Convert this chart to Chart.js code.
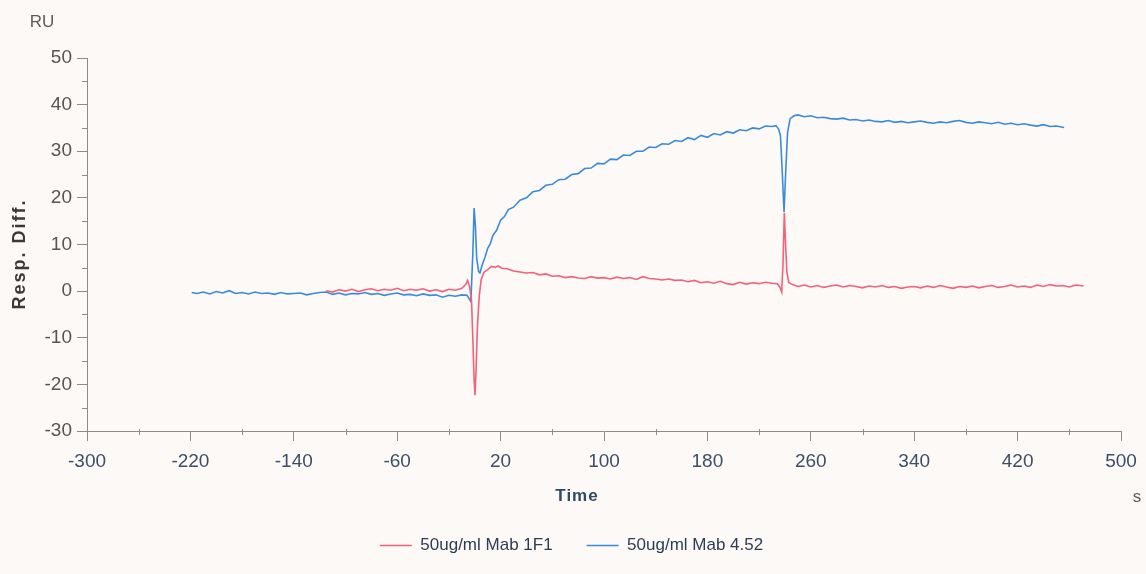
<!DOCTYPE html>
<html>
<head>
<meta charset="utf-8">
<title>Resp. Diff. vs Time</title>
<script src="https://cdn.jsdelivr.net/npm/chart.js@4.4.1/dist/chart.umd.min.js"></script>
<style>
  html, body { margin: 0; padding: 0; background: #fdf9f7; }
  #wrap { width: 1146px; height: 574px; position: relative; }
</style>
</head>
<body>
<div id="wrap"><canvas id="sensor"></canvas></div>
<script>
/* ================= DATA ================= */

const seriesNames = ["50ug/ml Mab 1F1", "50ug/ml Mab 4.52"];

// 50ug/ml Mab 1F1 (red)
const redTime = [
  -115, -110, -105, -100, -95, -90, -85, -80, -75, -70, -65, -60, -55, -50, -45, -40,
  -35, -30, -25, -20, -15, -10, -7, -5.5, -4, -2.5, -1.5, -0.5, 0.2, 1, 2, 3.5,
  5, 7, 10, 13, 16, 18, 21, 25, 30, 35, 40, 45, 50, 55, 60, 65,
  70, 75, 80, 85, 90, 95, 100, 105, 110, 115, 120, 125, 130, 135, 140, 145,
  150, 155, 160, 165, 170, 175, 180, 185, 190, 195, 200, 205, 210, 215, 220, 225,
  230, 234, 236, 237.5, 238.5, 239.5, 240.5, 241.5, 243, 246, 250, 255, 260, 265, 270, 275,
  280, 285, 290, 295, 300, 305, 310, 315, 320, 325, 330, 335, 340, 345, 350, 355,
  360, 365, 370, 375, 380, 385, 390, 395, 400, 405, 410, 415, 420, 425, 430, 435,
  440, 445, 450, 455, 460, 465, 471
];
const redResp = [
  0.1, -0.2, 0.3, 0.0, 0.4, -0.1, 0.3, 0.5, 0.1, 0.4, 0.2, 0.6, 0.1, 0.4, 0.2, 0.5,
  0.0, 0.3, -0.1, 0.4, 0.2, 0.6, 1.4, 2.3, 1.0, -2.0, -10, -19, -22.3, -17, -8, -1,
  2.5, 4.0, 4.6, 5.3, 5.1, 5.4, 4.9, 4.8, 4.3, 4.1, 3.9, 4.0, 3.5, 3.7, 3.2, 3.3,
  2.9, 3.1, 2.8, 2.7, 3.1, 2.8, 2.9, 2.6, 3.0, 2.7, 2.9, 2.5, 3.1, 2.7, 2.6, 2.4,
  2.6, 2.3, 2.4, 2.0, 2.3, 1.8, 2.0, 1.7, 2.1, 1.6, 1.4, 1.9, 1.5, 1.8, 1.6, 1.9,
  1.7, 1.6, 0.9, -0.2, 6, 16.8, 10, 4, 1.8, 1.4, 1.0, 1.3, 0.9, 1.2, 0.8, 1.1,
  1.3, 0.9, 1.2, 1.0, 0.7, 1.1, 0.9, 1.2, 0.8, 1.0, 0.6, 0.9, 1.0, 0.7, 1.1, 0.8,
  1.2, 0.9, 0.6, 1.0, 0.8, 1.1, 0.7, 1.0, 1.2, 0.8, 1.0, 1.3, 0.9, 1.1, 0.8, 1.3,
  1.0, 1.4, 1.1, 1.2, 0.9, 1.3, 1.1
];

// 50ug/ml Mab 4.52 (blue)
const blueTime = [
  -219, -215, -210, -205, -200, -195, -190, -185, -180, -175, -170, -165, -160, -155, -150, -145,
  -140, -135, -130, -125, -120, -115, -110, -105, -100, -95, -90, -85, -80, -75, -70, -65,
  -60, -55, -50, -45, -40, -35, -30, -25, -20, -15, -10, -6, -3, -1.5, -0.5, 0.5,
  1.5, 3, 4, 6, 8, 10, 12, 14, 17, 20, 23, 26, 30, 35, 40, 45,
  50, 55, 60, 65, 70, 75, 80, 85, 90, 95, 100, 105, 110, 115, 120, 125,
  130, 135, 140, 145, 150, 155, 160, 165, 170, 175, 180, 185, 190, 195, 200, 205,
  210, 215, 220, 225, 230, 233, 235, 236.5, 238, 239.3, 240.5, 242, 244, 247, 250, 255,
  260, 265, 270, 275, 280, 285, 290, 295, 300, 305, 310, 315, 320, 325, 330, 335,
  340, 345, 350, 355, 360, 365, 370, 375, 380, 385, 390, 395, 400, 405, 410, 415,
  420, 425, 430, 435, 440, 445, 450, 456
];
const blueResp = [
  -0.3, -0.5, -0.2, -0.6, -0.1, -0.4, 0.1, -0.5, -0.3, -0.6, -0.2, -0.5, -0.4, -0.7, -0.3, -0.6,
  -0.5, -0.4, -0.8, -0.5, -0.3, -0.2, -0.7, -0.4, -0.8, -0.5, -0.6, -0.3, -0.7, -0.5, -0.9, -0.6,
  -0.4, -0.8, -0.7, -1.0, -0.6, -0.9, -0.8, -1.3, -0.9, -1.1, -0.8, -0.9, -2.2, 8, 17.8, 14,
  7, 4.2, 3.9, 5.8, 7.3, 9.2, 10.1, 11.9, 13.1, 15.2, 16.0, 17.5, 18.0, 19.5, 20.0, 21.3,
  21.6, 22.7, 22.9, 23.9, 24.0, 25.0, 25.2, 26.3, 26.4, 27.4, 27.3, 28.3, 28.2, 29.2, 29.1, 30.0,
  30.0, 30.9, 30.8, 31.6, 31.5, 32.3, 32.1, 32.9, 32.5, 33.4, 33.0, 33.8, 33.5, 34.2, 33.9, 34.6,
  34.4, 35.0, 34.8, 35.4, 35.3, 35.5, 34.8, 33.5, 25, 17, 25, 34, 37, 37.6, 37.8, 37.4,
  37.6, 37.2, 37.3, 37.0, 36.9, 37.1, 36.7, 36.8, 36.5, 36.7, 36.4, 36.3, 36.6, 36.2, 36.4, 36.1,
  36.3, 36.5, 36.2, 36.0, 36.3, 36.1, 36.4, 36.6, 36.2, 36.0, 36.3, 36.1, 35.9, 36.2, 35.8, 36.0,
  35.7, 35.9, 35.6, 35.4, 35.7, 35.3, 35.4, 35.1
];

// axis ticks
const xMin = -300, xMax = 500, xStep = 80;
const yMin = -30, yMax = 50, yStep = 10;
const xMinorTicks = [-260, -180, -100, -20, 60, 140, 220, 300, 380, 460];
const yMinorTicks = [-25, -15, -5, 5, 15, 25, 35, 45];

/* ================= HELPERS ================= */

function toPoints(times, values) {
  return times.map((t, i) => ({ x: t, y: values[i] }));
}

const axisColor = "#8c8c8c";
const fontFamily = "'Liberation Sans', Arial, sans-serif";

/* ================= EXTRA AXIS DECOR ================= */

const axisDecor = {
  id: "axisDecor",
  afterDraw(chart) {
    const { ctx, scales: { x, y } } = chart;
    ctx.save();

    // minor ticks
    ctx.strokeStyle = axisColor;
    ctx.lineWidth = 1;
    ctx.beginPath();
    xMinorTicks.forEach(v => {
      const px = Math.round(x.getPixelForValue(v)) + 0.5;
      ctx.moveTo(px, y.bottom - 2);
      ctx.lineTo(px, y.bottom + 4);
    });
    yMinorTicks.forEach(v => {
      const py = Math.round(y.getPixelForValue(v)) + 0.5;
      ctx.moveTo(x.left - 5, py);
      ctx.lineTo(x.left + 1, py);
    });
    ctx.stroke();

    // unit labels
    ctx.fillStyle = "#5a5a5a";
    ctx.font = "17px " + fontFamily;
    ctx.textAlign = "center";
    ctx.textBaseline = "middle";
    ctx.fillText("RU", 42, 22);
    ctx.fillText("s", 1137, 497);

    // axis titles
    ctx.fillStyle = "#2f4a68";
    ctx.font = "bold 17px " + fontFamily;
    ctx.letterSpacing = "1px";
    ctx.fillText("Time", 577, 496);

    ctx.fillStyle = "#3a3a3a";
    ctx.font = "bold 18px " + fontFamily;
    ctx.letterSpacing = "2px";
    ctx.translate(20, 254);
    ctx.rotate(-Math.PI / 2);
    ctx.fillText("Resp. Diff.", 0, 0);
    ctx.restore();
  }
};

/* ================= CHART ================= */

new Chart(document.getElementById("sensor"), {
  type: "line",
  data: {
    datasets: [
      {
        label: seriesNames[0],
        data: toPoints(redTime, redResp),
        borderColor: "#f2627a",
        backgroundColor: "#f2627a",
        borderWidth: 1.6,
        pointRadius: 0,
        tension: 0
      },
      {
        label: seriesNames[1],
        data: toPoints(blueTime, blueResp),
        borderColor: "#3a8cdb",
        backgroundColor: "#3a8cdb",
        borderWidth: 1.6,
        pointRadius: 0,
        tension: 0
      }
    ]
  },
  options: {
    responsive: true,
    maintainAspectRatio: false,
    animation: false,
    layout: { padding: { top: 58, right: 25, bottom: 10, left: 22 } },
    plugins: {
      legend: {
        position: "bottom",
        labels: {
          boxWidth: 32,
          boxHeight: 0,
          padding: 34,
          color: "#2c3e55",
          font: { family: fontFamily, size: 17 },
          generateLabels(chart) {
            return chart.data.datasets.map((ds, i) => ({
              text: ds.label,
              strokeStyle: ds.borderColor,
              fillStyle: ds.borderColor,
              lineWidth: 1.5,
              datasetIndex: i,
              fontColor: "#2c3e55"
            }));
          }
        }
      },
      tooltip: { enabled: false }
    },
    scales: {
      x: {
        type: "linear",
        min: xMin,
        max: xMax,
        afterFit(scale) { scale.height = 72; },
        ticks: {
          stepSize: xStep,
          color: "#3d4f66",
          padding: 9,
          maxRotation: 0,
          font: { family: fontFamily, size: 19 }
        },
        grid: { drawOnChartArea: false, tickLength: 10, color: axisColor },
        border: { color: axisColor, width: 1 }
      },
      y: {
        min: yMin,
        max: yMax,
        afterFit(scale) { scale.width = 65; },
        ticks: {
          stepSize: yStep,
          color: "#555555",
          padding: 5,
          font: { family: fontFamily, size: 19 }
        },
        grid: { drawOnChartArea: false, tickLength: 10, color: axisColor },
        border: { color: axisColor, width: 1 }
      }
    }
  },
  plugins: [axisDecor]
});
</script>
</body>
</html>
